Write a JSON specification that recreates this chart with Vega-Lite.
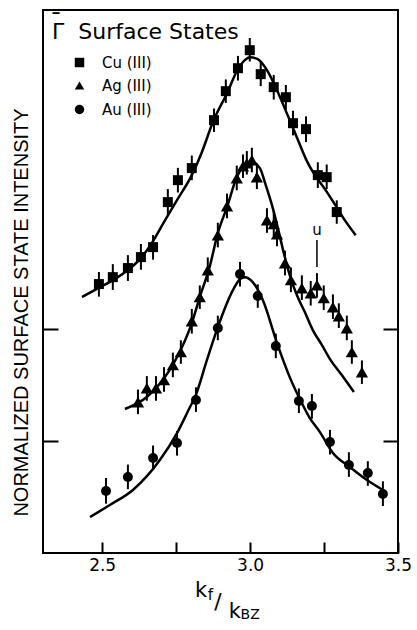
{
  "$schema": "https://vega.github.io/schema/vega-lite/v6.json",
  "width": 355,
  "height": 543,
  "autosize": {"type": "none"},
  "padding": {"left": 43, "top": 10, "right": 19, "bottom": 77},
  "background": "white",
  "config": {
    "view": {"stroke": "black", "strokeWidth": 2},
    "font": "DejaVu Sans",
    "axis": {"grid": false, "domain": false, "tickColor": "black", "tickWidth": 2, "labelColor": "black", "titleColor": "black"},
    "legend": {"titleColor": "black", "labelColor": "black"}
  },
  "resolve": {"axis": {"y": "independent"}},
  "datasets": {
    "points": [
      {"metal": "Cu (III)", "k": 2.489, "y": 2.402, "lo": 2.29, "hi": 2.51},
      {"metal": "Cu (III)", "k": 2.536, "y": 2.464, "lo": 2.35, "hi": 2.58},
      {"metal": "Cu (III)", "k": 2.587, "y": 2.545, "lo": 2.43, "hi": 2.66},
      {"metal": "Cu (III)", "k": 2.631, "y": 2.643, "lo": 2.53, "hi": 2.76},
      {"metal": "Cu (III)", "k": 2.672, "y": 2.732, "lo": 2.62, "hi": 2.84},
      {"metal": "Cu (III)", "k": 2.722, "y": 3.134, "lo": 3.02, "hi": 3.25},
      {"metal": "Cu (III)", "k": 2.756, "y": 3.33, "lo": 3.22, "hi": 3.44},
      {"metal": "Cu (III)", "k": 2.803, "y": 3.438, "lo": 3.33, "hi": 3.55},
      {"metal": "Cu (III)", "k": 2.878, "y": 3.866, "lo": 3.76, "hi": 3.97},
      {"metal": "Cu (III)", "k": 2.918, "y": 4.125, "lo": 4.02, "hi": 4.23},
      {"metal": "Cu (III)", "k": 2.959, "y": 4.33, "lo": 4.22, "hi": 4.44},
      {"metal": "Cu (III)", "k": 2.999, "y": 4.491, "lo": 4.39, "hi": 4.6},
      {"metal": "Cu (III)", "k": 3.036, "y": 4.277, "lo": 4.17, "hi": 4.39},
      {"metal": "Cu (III)", "k": 3.08, "y": 4.161, "lo": 4.05, "hi": 4.27},
      {"metal": "Cu (III)", "k": 3.121, "y": 4.071, "lo": 3.96, "hi": 4.18},
      {"metal": "Cu (III)", "k": 3.145, "y": 3.839, "lo": 3.73, "hi": 3.95},
      {"metal": "Cu (III)", "k": 3.189, "y": 3.786, "lo": 3.67, "hi": 3.9},
      {"metal": "Cu (III)", "k": 3.229, "y": 3.375, "lo": 3.26, "hi": 3.49},
      {"metal": "Cu (III)", "k": 3.259, "y": 3.357, "lo": 3.25, "hi": 3.47},
      {"metal": "Cu (III)", "k": 3.293, "y": 3.045, "lo": 2.94, "hi": 3.15},
      {"metal": "Ag (III)", "k": 2.621, "y": 1.348, "lo": 1.24, "hi": 1.46},
      {"metal": "Ag (III)", "k": 2.651, "y": 1.473, "lo": 1.36, "hi": 1.58},
      {"metal": "Ag (III)", "k": 2.682, "y": 1.473, "lo": 1.36, "hi": 1.58},
      {"metal": "Ag (III)", "k": 2.709, "y": 1.545, "lo": 1.44, "hi": 1.66},
      {"metal": "Ag (III)", "k": 2.739, "y": 1.679, "lo": 1.57, "hi": 1.79},
      {"metal": "Ag (III)", "k": 2.766, "y": 1.795, "lo": 1.69, "hi": 1.9},
      {"metal": "Ag (III)", "k": 2.803, "y": 2.071, "lo": 1.96, "hi": 2.18},
      {"metal": "Ag (III)", "k": 2.83, "y": 2.286, "lo": 2.18, "hi": 2.39},
      {"metal": "Ag (III)", "k": 2.857, "y": 2.527, "lo": 2.42, "hi": 2.64},
      {"metal": "Ag (III)", "k": 2.891, "y": 2.839, "lo": 2.73, "hi": 2.95},
      {"metal": "Ag (III)", "k": 2.922, "y": 3.098, "lo": 2.99, "hi": 3.21},
      {"metal": "Ag (III)", "k": 2.955, "y": 3.348, "lo": 3.24, "hi": 3.46},
      {"metal": "Ag (III)", "k": 2.976, "y": 3.455, "lo": 3.35, "hi": 3.56},
      {"metal": "Ag (III)", "k": 2.989, "y": 3.482, "lo": 3.38, "hi": 3.59},
      {"metal": "Ag (III)", "k": 3.006, "y": 3.509, "lo": 3.4, "hi": 3.62},
      {"metal": "Ag (III)", "k": 3.023, "y": 3.357, "lo": 3.25, "hi": 3.47},
      {"metal": "Ag (III)", "k": 3.057, "y": 2.973, "lo": 2.86, "hi": 3.08},
      {"metal": "Ag (III)", "k": 3.08, "y": 2.938, "lo": 2.83, "hi": 3.05},
      {"metal": "Ag (III)", "k": 3.091, "y": 2.848, "lo": 2.74, "hi": 2.96},
      {"metal": "Ag (III)", "k": 3.118, "y": 2.589, "lo": 2.48, "hi": 2.7},
      {"metal": "Ag (III)", "k": 3.138, "y": 2.438, "lo": 2.33, "hi": 2.55},
      {"metal": "Ag (III)", "k": 3.175, "y": 2.366, "lo": 2.26, "hi": 2.48},
      {"metal": "Ag (III)", "k": 3.205, "y": 2.321, "lo": 2.21, "hi": 2.43},
      {"metal": "Ag (III)", "k": 3.226, "y": 2.393, "lo": 2.28, "hi": 2.5},
      {"metal": "Ag (III)", "k": 3.249, "y": 2.277, "lo": 2.17, "hi": 2.39},
      {"metal": "Ag (III)", "k": 3.28, "y": 2.196, "lo": 2.09, "hi": 2.31},
      {"metal": "Ag (III)", "k": 3.3, "y": 2.116, "lo": 2.01, "hi": 2.23},
      {"metal": "Ag (III)", "k": 3.327, "y": 2.009, "lo": 1.9, "hi": 2.12},
      {"metal": "Ag (III)", "k": 3.344, "y": 1.795, "lo": 1.69, "hi": 1.9},
      {"metal": "Ag (III)", "k": 3.378, "y": 1.616, "lo": 1.51, "hi": 1.72},
      {"metal": "Au (III)", "k": 2.513, "y": 0.554, "lo": 0.44, "hi": 0.67},
      {"metal": "Au (III)", "k": 2.587, "y": 0.679, "lo": 0.57, "hi": 0.79},
      {"metal": "Au (III)", "k": 2.672, "y": 0.848, "lo": 0.74, "hi": 0.96},
      {"metal": "Au (III)", "k": 2.753, "y": 0.982, "lo": 0.87, "hi": 1.09},
      {"metal": "Au (III)", "k": 2.817, "y": 1.366, "lo": 1.26, "hi": 1.48},
      {"metal": "Au (III)", "k": 2.891, "y": 2.009, "lo": 1.9, "hi": 2.12},
      {"metal": "Au (III)", "k": 2.966, "y": 2.491, "lo": 2.38, "hi": 2.6},
      {"metal": "Au (III)", "k": 3.026, "y": 2.295, "lo": 2.19, "hi": 2.4},
      {"metal": "Au (III)", "k": 3.087, "y": 1.848, "lo": 1.74, "hi": 1.96},
      {"metal": "Au (III)", "k": 3.165, "y": 1.357, "lo": 1.25, "hi": 1.47},
      {"metal": "Au (III)", "k": 3.209, "y": 1.313, "lo": 1.2, "hi": 1.42},
      {"metal": "Au (III)", "k": 3.27, "y": 0.991, "lo": 0.88, "hi": 1.1},
      {"metal": "Au (III)", "k": 3.334, "y": 0.786, "lo": 0.68, "hi": 0.9},
      {"metal": "Au (III)", "k": 3.398, "y": 0.714, "lo": 0.6, "hi": 0.82},
      {"metal": "Au (III)", "k": 3.449, "y": 0.527, "lo": 0.42, "hi": 0.64}
    ],
    "curves": [
      {"metal": "Cu", "k": 2.432, "y": 2.286},
      {"metal": "Cu", "k": 2.493, "y": 2.375},
      {"metal": "Cu", "k": 2.543, "y": 2.446},
      {"metal": "Cu", "k": 2.587, "y": 2.527},
      {"metal": "Cu", "k": 2.628, "y": 2.625},
      {"metal": "Cu", "k": 2.672, "y": 2.786},
      {"metal": "Cu", "k": 2.705, "y": 2.938},
      {"metal": "Cu", "k": 2.753, "y": 3.152},
      {"metal": "Cu", "k": 2.803, "y": 3.375},
      {"metal": "Cu", "k": 2.837, "y": 3.58},
      {"metal": "Cu", "k": 2.874, "y": 3.848},
      {"metal": "Cu", "k": 2.922, "y": 4.107},
      {"metal": "Cu", "k": 2.959, "y": 4.321},
      {"metal": "Cu", "k": 2.982, "y": 4.402},
      {"metal": "Cu", "k": 2.999, "y": 4.429},
      {"metal": "Cu", "k": 3.026, "y": 4.411},
      {"metal": "Cu", "k": 3.057, "y": 4.313},
      {"metal": "Cu", "k": 3.091, "y": 4.134},
      {"metal": "Cu", "k": 3.124, "y": 3.929},
      {"metal": "Cu", "k": 3.158, "y": 3.714},
      {"metal": "Cu", "k": 3.192, "y": 3.5},
      {"metal": "Cu", "k": 3.219, "y": 3.375},
      {"metal": "Cu", "k": 3.253, "y": 3.25},
      {"metal": "Cu", "k": 3.286, "y": 3.116},
      {"metal": "Cu", "k": 3.32, "y": 2.973},
      {"metal": "Cu", "k": 3.357, "y": 2.839},
      {"metal": "Ag", "k": 2.577, "y": 1.286},
      {"metal": "Ag", "k": 2.651, "y": 1.393},
      {"metal": "Ag", "k": 2.705, "y": 1.545},
      {"metal": "Ag", "k": 2.77, "y": 1.839},
      {"metal": "Ag", "k": 2.803, "y": 2.054},
      {"metal": "Ag", "k": 2.83, "y": 2.286},
      {"metal": "Ag", "k": 2.864, "y": 2.563},
      {"metal": "Ag", "k": 2.891, "y": 2.857},
      {"metal": "Ag", "k": 2.922, "y": 3.089},
      {"metal": "Ag", "k": 2.955, "y": 3.357},
      {"metal": "Ag", "k": 2.982, "y": 3.464},
      {"metal": "Ag", "k": 3.006, "y": 3.491},
      {"metal": "Ag", "k": 3.033, "y": 3.438},
      {"metal": "Ag", "k": 3.053, "y": 3.286},
      {"metal": "Ag", "k": 3.074, "y": 3.107},
      {"metal": "Ag", "k": 3.094, "y": 2.902},
      {"metal": "Ag", "k": 3.114, "y": 2.679},
      {"metal": "Ag", "k": 3.134, "y": 2.482},
      {"metal": "Ag", "k": 3.158, "y": 2.304},
      {"metal": "Ag", "k": 3.185, "y": 2.152},
      {"metal": "Ag", "k": 3.212, "y": 1.991},
      {"metal": "Ag", "k": 3.243, "y": 1.857},
      {"metal": "Ag", "k": 3.27, "y": 1.732},
      {"metal": "Ag", "k": 3.31, "y": 1.589},
      {"metal": "Ag", "k": 3.351, "y": 1.438},
      {"metal": "Au", "k": 2.459, "y": 0.321},
      {"metal": "Au", "k": 2.526, "y": 0.429},
      {"metal": "Au", "k": 2.604, "y": 0.563},
      {"metal": "Au", "k": 2.695, "y": 0.83},
      {"metal": "Au", "k": 2.753, "y": 1.071},
      {"metal": "Au", "k": 2.797, "y": 1.304},
      {"metal": "Au", "k": 2.814, "y": 1.393},
      {"metal": "Au", "k": 2.854, "y": 1.723},
      {"metal": "Au", "k": 2.891, "y": 2.018},
      {"metal": "Au", "k": 2.942, "y": 2.348},
      {"metal": "Au", "k": 2.966, "y": 2.446},
      {"metal": "Au", "k": 2.982, "y": 2.464},
      {"metal": "Au", "k": 3.009, "y": 2.42},
      {"metal": "Au", "k": 3.043, "y": 2.259},
      {"metal": "Au", "k": 3.091, "y": 1.875},
      {"metal": "Au", "k": 3.134, "y": 1.571},
      {"metal": "Au", "k": 3.175, "y": 1.339},
      {"metal": "Au", "k": 3.202, "y": 1.205},
      {"metal": "Au", "k": 3.236, "y": 1.08},
      {"metal": "Au", "k": 3.28, "y": 0.893},
      {"metal": "Au", "k": 3.337, "y": 0.768},
      {"metal": "Au", "k": 3.395, "y": 0.652},
      {"metal": "Au", "k": 3.449, "y": 0.563}
    ],
    "one": [{}]
  },
  "layer": [
    {
      "data": {"name": "curves"},
      "mark": {"type": "line", "color": "black", "strokeWidth": 2.5, "interpolate": "monotone"},
      "encoding": {
        "x": {
          "field": "k", "type": "quantitative", "title": null,
          "scale": {"domain": [2.3, 3.5], "nice": false, "zero": false},
          "axis": {
            "orient": "bottom", "offset": -11,
            "values": [2.5, 2.75, 3, 3.25, 3.5],
            "labelExpr": "datum.value == 2.75 || datum.value == 3.25 ? '' : format(datum.value, '.1f')",
            "ticks": true, "tickSize": 11, "tickWidth": 2, "tickColor": "black",
            "labelPadding": 4, "labelFontSize": 17, "labelFont": "DejaVu Sans", "labelFlush": false
          }
        },
        "y": {
          "field": "y", "type": "quantitative",
          "scale": {"domain": [0, 4.85], "nice": false, "zero": false},
          "axis": {
            "orient": "left", "values": [1, 2], "labels": false, "tickSize": -15,
            "title": "NORMALIZED SURFACE STATE INTENSITY",
            "titleFont": "Liberation Sans", "titleFontSize": 20, "titleFontWeight": "normal",
            "titleX": -16, "titleY": 302, "titleAngle": -90, "titleBaseline": "alphabetic", "titleAlign": "center"
          }
        },
        "detail": {"field": "metal"}
      }
    },
    {
      "data": {"name": "points"},
      "mark": {"type": "rule", "color": "black", "strokeWidth": 2},
      "encoding": {
        "x": {"field": "k", "type": "quantitative", "title": null},
        "y": {"field": "lo", "type": "quantitative", "axis": {"orient": "right", "values": [1, 2], "labels": false, "tickSize": -15, "title": null}},
        "y2": {"field": "hi"}
      }
    },
    {
      "data": {"name": "points"},
      "mark": {"type": "point", "filled": true, "color": "black", "opacity": 1},
      "encoding": {
        "x": {"field": "k", "type": "quantitative", "title": null},
        "y": {"field": "y", "type": "quantitative", "axis": null},
        "size": {"condition": {"test": "datum.metal == 'Ag (III)'", "value": 150}, "value": 100},
        "shape": {
          "field": "metal", "type": "nominal",
          "scale": {"domain": ["Cu (III)", "Ag (III)", "Au (III)"], "range": ["square", "triangle-up", "circle"]},
          "legend": {
            "orient": "none", "legendX": 9, "legendY": 12, "padding": 0,
            "title": "Γ\u00a0  Surface States", "titleLimit": 400,
            "titleFont": "DejaVu Sans", "titleFontSize": 22, "titleFontWeight": "normal", "titlePadding": 11,
            "labelFont": "DejaVu Sans", "labelFontSize": 15,
            "symbolOffset": 20, "labelOffset": 15, "rowPadding": 7, "symbolSize": 90,
            "symbolFillColor": "black", "symbolStrokeColor": "black"
          }
        }
      }
    },
    {
      "data": {"name": "one"},
      "mark": {"type": "text", "text": "¯", "fontSize": 24, "font": "DejaVu Sans", "color": "black", "align": "center", "baseline": "alphabetic"},
      "encoding": {"x": {"datum": 2.344, "type": "quantitative", "title": null}, "y": {"datum": 4.66, "type": "quantitative", "axis": null}}
    },
    {
      "data": {"name": "one"},
      "mark": {"type": "text", "text": "u", "fontSize": 15, "font": "DejaVu Sans", "color": "black", "align": "center", "baseline": "alphabetic"},
      "encoding": {"x": {"datum": 3.226, "type": "quantitative", "title": null}, "y": {"datum": 2.84, "type": "quantitative", "axis": null}}
    },
    {
      "data": {"name": "one"},
      "mark": {"type": "rule", "color": "black", "strokeWidth": 1.5},
      "encoding": {"x": {"datum": 3.226, "type": "quantitative", "title": null}, "y": {"datum": 2.795, "type": "quantitative", "axis": null}, "y2": {"datum": 2.554}}
    },
    {
      "data": {"name": "one"},
      "mark": {"type": "text", "text": "k", "fontSize": 21, "font": "DejaVu Sans", "color": "black", "align": "left", "baseline": "alphabetic"},
      "encoding": {"x": {"datum": 2.8135, "type": "quantitative", "title": null}, "y": {"datum": -0.393, "type": "quantitative", "axis": null}}
    },
    {
      "data": {"name": "one"},
      "mark": {"type": "text", "text": "f", "fontSize": 15, "font": "DejaVu Sans", "color": "black", "align": "left", "baseline": "alphabetic"},
      "encoding": {"x": {"datum": 2.857, "type": "quantitative", "title": null}, "y": {"datum": -0.42, "type": "quantitative", "axis": null}}
    },
    {
      "data": {"name": "one"},
      "mark": {"type": "text", "text": "/", "fontSize": 22, "font": "DejaVu Sans", "color": "black", "align": "left", "baseline": "alphabetic"},
      "encoding": {"x": {"datum": 2.879, "type": "quantitative", "title": null}, "y": {"datum": -0.5, "type": "quantitative", "axis": null}}
    },
    {
      "data": {"name": "one"},
      "mark": {"type": "text", "text": "k", "fontSize": 21, "font": "DejaVu Sans", "color": "black", "align": "left", "baseline": "alphabetic"},
      "encoding": {"x": {"datum": 2.928, "type": "quantitative", "title": null}, "y": {"datum": -0.58, "type": "quantitative", "axis": null}}
    },
    {
      "data": {"name": "one"},
      "mark": {"type": "text", "text": "BZ", "fontSize": 14, "font": "DejaVu Sans", "color": "black", "align": "left", "baseline": "alphabetic"},
      "encoding": {"x": {"datum": 2.968, "type": "quantitative", "title": null}, "y": {"datum": -0.589, "type": "quantitative", "axis": null}}
    }
  ]
}
